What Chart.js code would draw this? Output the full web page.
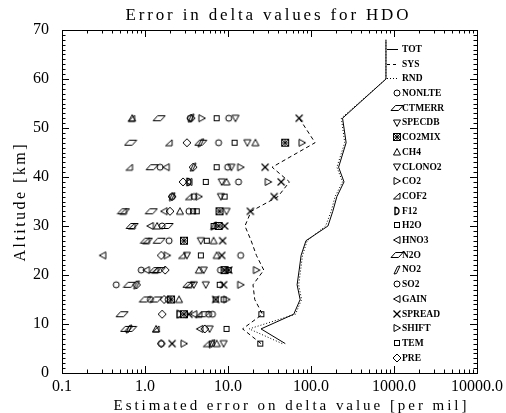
<!DOCTYPE html>
<html>
<head>
<meta charset="utf-8">
<script src="https://cdn.jsdelivr.net/npm/chart.js@4.4.1/dist/chart.umd.min.js"></script>
<style>
  html, body { margin: 0; padding: 0; background: #fff; }
  canvas { display: block; }
</style>
</head>
<body>
<canvas id="hdo-chart" width="506" height="413"></canvas>
<script>
// altitude levels of the error components [km]
const altitudes = [6, 9, 12, 15, 18, 21, 24, 27, 30, 33, 36, 39, 42, 47, 52];
// altitude levels of the summed errors
const lineAltitudes = [6, 9, 12, 15, 18, 21, 24, 27, 30, 33, 36, 39, 42, 47, 52, 60, 68];

// summed errors [per mil]
const tot = [49, 25, 62, 74, 68, 72, 76, 87, 160, 183, 205, 250, 215, 265, 240, 800, 800];
const rnd = [45, 18, 65, 77, 71, 75, 79, 90, 150, 175, 195, 240, 205, 255, 232, 800, 800];
const sys = [25, 15, 26, 21, 20, 27, 22, 19, 16, 19, 40, 55, 34, 112, 72];

// error components [per mil], same order as altitudes
const nonlte = [6.4, null, 6.5, 1.9, null, 8.1, 14.2, null, null, null, 3.9, 13.4, 9.9, null, 10.2];
const ctmerr = [null, 0.6, 0.53, 1.01, 0.65, 1.48, null, 1.48, 1.85, 1.19, null, null, 1.22, 0.67, 1.48];
const specdb = [null, 6.0, null, null, 5.4, 5.1, null, 4.7, null, 9.6, 8.2, null, 11.0, 17.1, 12.3];
const co2mix = [null, null, 2.95, 2.06, null, 9.1, null, 2.95, 7.7, 7.9, null, null, null, 48.8, null];
const ch4 = [7.3, 1.36, null, 2.57, null, 4.45, 7.3, 6.7, 1.4, 2.64, null, 9.6, null, 21.4, 0.7];
const clono2 = [8.85, null, null, null, 3.88, null, 3.2, null, null, null, null, 8.4, null, null, null];
const co2 = [null, null, null, null, null, null, null, null, null, null, 4.45, null, null, 78, 4.84];
const cof2 = [5.55, 1.36, 4.45, null, 3.38, 1.33, 2.8, 1.04, 0.7, 0.55, 3.38, null, 0.65, 1.95, 0.69];
const f12 = [null, null, 2.57, null, null, null, null, null, null, null, null, 3.38, null, null, null];
const h2o = [null, null, null, 8.85, null, null, 4.71, 5.55, null, 3.8, 9.1, 5.4, 7.3, 12.0, 7.3];
const hno3 = [null, null, null, null, null, 1.04, null, null, 1.16, 1.7, null, null, 1.8, null, null];
const n2o = [null, 0.67, 5.1, 1.36, 3.38, 1.33, null, 1.04, 0.7, 0.55, null, null, null, 4.7, null];
const no2 = [6.4, 0.64, null, null, 0.79, null, null, null, 6.7, null, 2.12, null, 3.8, 4.7, 3.6];
const so2 = [1.57, null, 5.85, 1.16, 0.45, 0.9, null, 1.95, 1.61, 3.38, 2.12, null, 1.52, 7.7, 3.5];
const gain = [null, 4.58, 3.88, null, null, null, 0.31, null, null, null, null, 3.38, null, null, null];
const spread = [2.12, null, 3.38, 7.1, 8.85, 10.2, 8.4, 8.6, 9.1, 18.6, 36, 43.7, 28, null, 72];
const shift = [2.95, null, null, 9.6, 14.2, 22, 1.85, null, null, null, null, 30.5, 14.2, null, null];
const tem = [24.5, 9.6, 25.2, 7.1, 7.95, 10.2, null, null, 6.7, 4.2, null, null, null, null, null];
const pre = [1.57, 5.25, 1.61, 1.7, 0.79, 1.75, 1.57, null, null, 2.0, 2.12, 2.87, 3.8, 3.2, 3.6];

const xTickValues = [0.1, 1, 10, 100, 1000, 10000];

// small outlined symbols, drawn once and used as point styles
function makeSymbol(kind) {
  const w = kind === "para" ? 14 : 10, h = 10;
  const c = document.createElement("canvas");
  c.width = w; c.height = h;
  const g = c.getContext("2d");
  g.strokeStyle = "#000"; g.fillStyle = "#000"; g.lineWidth = 1;
  const poly = pts => {
    g.beginPath();
    pts.forEach(([x, y], i) => i ? g.lineTo(x, y) : g.moveTo(x, y));
    g.closePath(); g.stroke();
  };
  const seg = (a, b, c2, d) => { g.beginPath(); g.moveTo(a, b); g.lineTo(c2, d); g.stroke(); };
  switch (kind) {
    case "circle": g.beginPath(); g.arc(5, 5, 3, 0, 2 * Math.PI); g.stroke(); break;
    case "square": g.strokeRect(2.5, 2.5, 5, 5); break;
    case "diamond": poly([[5, 1], [9, 5], [5, 9], [1, 5]]); break;
    case "up": poly([[5, 1.5], [8.5, 8], [1.5, 8]]); break;
    case "down": poly([[1.5, 2], [8.5, 2], [5, 8.5]]); break;
    case "right": poly([[2, 1.5], [8.5, 5], [2, 8.5]]); break;
    case "left": poly([[8, 1.5], [1.5, 5], [8, 8.5]]); break;
    case "corner": poly([[1.5, 8], [8, 8], [8, 2]]); break;
    case "para": poly([[1, 7.5], [8.5, 7.5], [13, 2.5], [5.5, 2.5]]); break;
    case "leaf": poly([[2, 9], [4.5, 8.5], [8, 1], [5.5, 1.5]]); break;
    case "d":
      g.lineWidth = 1.4;
      g.beginPath(); g.moveTo(3, 1.5); g.lineTo(3, 8.5);
      g.arc(3.5, 5, 3.5, Math.PI / 2, -Math.PI / 2, true);
      g.closePath(); g.stroke();
      break;
    case "cross": g.lineWidth = 1.2; seg(1.5, 1.5, 8.5, 8.5); seg(8.5, 1.5, 1.5, 8.5); break;
    case "boxstar":
      g.strokeRect(1.5, 1.5, 7, 7);
      seg(2, 2, 8, 8); seg(8, 2, 2, 8); seg(5, 2, 5, 8); seg(2, 5, 8, 5);
      break;
  }
  return c;
}

const components = [
  ["NONLTE", nonlte, "circle"],
  ["CTMERR", ctmerr, "para"],
  ["SPECDB", specdb, "down"],
  ["CO2MIX", co2mix, "boxstar"],
  ["CH4", ch4, "up"],
  ["CLONO2", clono2, "down"],
  ["CO2", co2, "right"],
  ["COF2", cof2, "corner"],
  ["F12", f12, "d"],
  ["H2O", h2o, "square"],
  ["HNO3", hno3, "left"],
  ["N2O", n2o, "para"],
  ["NO2", no2, "leaf"],
  ["SO2", so2, "circle"],
  ["GAIN", gain, "left"],
  ["SPREAD", spread, "cross"],
  ["SHIFT", shift, "right"],
  ["TEM", tem, "square"],
  ["PRE", pre, "diamond"],
];
const symbols = {};
components.forEach(([name, , kind]) => { symbols[name] = makeSymbol(kind); });

const toPoints = (vals, alts) =>
  vals.map((v, i) => ({ x: v, y: alts[i] })).filter(p => p.x !== null);

const datasets = components.map(([name, vals]) => ({
  label: name,
  data: toPoints(vals, altitudes),
  pointStyle: symbols[name],
  pointRadius: 4,
  showLine: false,
}));
datasets.push(
  { label: "TOT", data: toPoints(tot, lineAltitudes), showLine: true, borderColor: "#000", borderWidth: 1, pointRadius: 0 },
  { label: "SYS", data: toPoints(sys, altitudes), showLine: true, borderColor: "#000", borderWidth: 1, borderDash: [4, 3], pointRadius: 0 },
  { label: "RND", data: toPoints(rnd, lineAltitudes), showLine: true, borderColor: "#000", borderWidth: 1, borderDash: [1, 2], pointRadius: 0 },
);

// draw text stretched to a given width (the reference font is widely spaced)
function spacedText(g, text, cx, cy, width, font, rot) {
  g.save();
  g.font = font;
  g.letterSpacing = "0px";
  const w0 = g.measureText(text).width;
  g.letterSpacing = ((width - w0) / (text.length - 1)) + "px";
  g.translate(cx, cy);
  if (rot) g.rotate(rot);
  g.textAlign = "left";
  g.textBaseline = "alphabetic";
  g.fillStyle = "#000";
  g.fillText(text, -width / 2, 0);
  g.restore();
}

const framePlugin = {
  id: "frame",
  afterDraw(chart) {
    const g = chart.ctx;
    const { left, right, top, bottom } = chart.chartArea;
    const xs = chart.scales.x, ys = chart.scales.y;
    g.save();
    g.strokeStyle = "#000";
    g.lineWidth = 1;
    g.strokeRect(Math.round(left) + 0.5, Math.round(top) + 0.5, Math.round(right - left), Math.round(bottom - top));

    g.beginPath();
    for (let k = -1; k <= 4; k++) {
      for (let m = 1; m <= 9; m++) {
        const v = m * Math.pow(10, k);
        if (v > 10000) break;
        const px = Math.round(xs.getPixelForValue(v)) + 0.5;
        const len = m === 1 ? 7 : 3.5;
        g.moveTo(px, bottom); g.lineTo(px, bottom - len);
        g.moveTo(px, top); g.lineTo(px, top + len);
      }
    }
    for (let a = 0; a <= 70; a++) {
      const py = Math.round(ys.getPixelForValue(a)) + 0.5;
      const len = a % 10 === 0 ? 7 : 3.5;
      g.moveTo(left, py); g.lineTo(left + len, py);
      g.moveTo(right, py); g.lineTo(right - len, py);
    }
    g.stroke();

    // titles
    spacedText(g, "Error in delta values for HDO", 267, 20, 283, '17px "Liberation Serif"');
    spacedText(g, "Estimated error on delta value [per mil]", 290, 410, 353, '15px "Liberation Serif"');
    spacedText(g, "Altitude [km]", 25, 203, 117, '16px "Liberation Serif"', -Math.PI / 2);

    // legend
    const names = ["TOT", "SYS", "RND"].concat(components.map(c => c[0]));
    const dashes = { TOT: [], SYS: [3, 3], RND: [1, 2] };
    g.font = 'bold 9.5px "Liberation Serif"';
    g.textBaseline = "middle";
    g.textAlign = "left";
    g.fillStyle = "#000";
    names.forEach((name, i) => {
      const y = 49 + i * 14.7;
      if (dashes[name]) {
        g.setLineDash(dashes[name]);
        g.beginPath();
        g.moveTo(387, Math.round(y) + 0.5); g.lineTo(398, Math.round(y) + 0.5);
        g.stroke();
        g.setLineDash([]);
      } else {
        const s = symbols[name];
        g.drawImage(s, Math.round(397 - s.width / 2), Math.round(y - s.height / 2));
      }
      g.fillText(name, 402, y + 0.5);
    });
    g.restore();
  },
};

const tickFont = { family: "Liberation Serif", size: 16 };

new Chart(document.getElementById("hdo-chart").getContext("2d"), {
  type: "scatter",
  data: { datasets: datasets },
  options: {
    responsive: false,
    animation: false,
    layout: { padding: { top: 30, right: 29, left: 0, bottom: 0 } },
    plugins: {
      legend: { display: false },
      tooltip: { enabled: false },
    },
    scales: {
      x: {
        type: "logarithmic",
        min: 0.1,
        max: 10000,
        afterBuildTicks: s => { s.ticks = xTickValues.map(v => ({ value: v })); },
        afterFit: s => { s.height = 40; },
        grid: { display: false },
        border: { display: false },
        ticks: {
          autoSkip: false, maxRotation: 0, minRotation: 0,
          padding: -4, color: "#000", font: tickFont,
          callback: v => Number(v).toFixed(1),
        },
      },
      y: {
        min: 0,
        max: 70,
        afterFit: s => { s.width = 62; },
        grid: { display: false },
        border: { display: false },
        ticks: { stepSize: 10, padding: 5, color: "#000", font: tickFont },
      },
    },
  },
  plugins: [framePlugin],
});
</script>
</body>
</html>
